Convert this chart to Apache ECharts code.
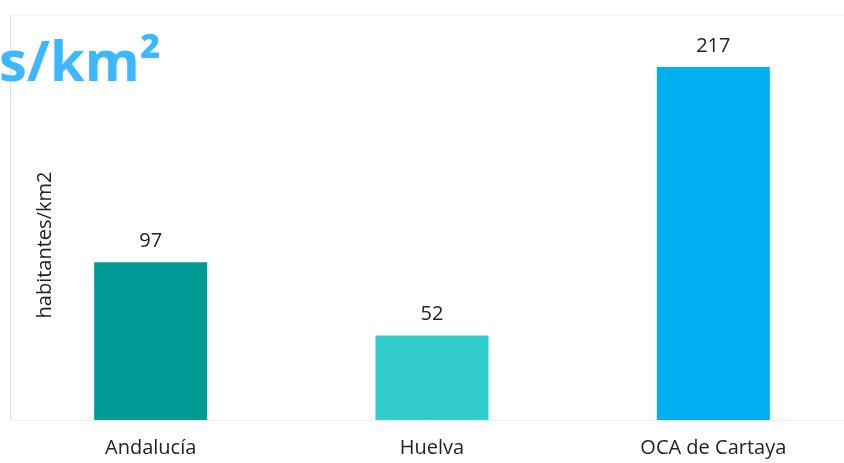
<!DOCTYPE html>
<html>
<head>
<meta charset="utf-8">
<script src="https://cdn.jsdelivr.net/npm/echarts@6/dist/echarts.min.js"></script>
<style>
  html, body { margin: 0; padding: 0; background: #fff; }
  #chart { width: 844px; height: 463px; }
</style>
</head>
<body>
<div id="chart"></div>
<script>
// Chart data
const categories = ['Andalucía', 'Huelva', 'OCA de Cartaya'];
const density = [97, 52, 217];
const barColors = ['#009b95', '#33cccc', '#00b0f0'];

document.addEventListener('DOMContentLoaded', function() {
    const myChart = echarts.init(document.getElementById('chart'));

    const option = {
        animation: false,
        textStyle: { fontFamily: 'Open Sans' },
        grid: { left: 10, width: 844, top: 67, height: 353, outerBoundsMode: 'none' },
        xAxis: {
            type: 'category',
            data: categories,
            axisLine: { lineStyle: { color: '#f0f0f0' } },
            axisTick: { show: false },
            axisLabel: { color: '#222', fontSize: 20, margin: 18 }
        },
        yAxis: {
            type: 'value',
            min: 0,
            max: 217,
            axisLine: { show: false },
            axisTick: { show: false },
            axisLabel: { show: false },
            splitLine: { show: false }
        },
        series: [{
            type: 'bar',
            barWidth: 113,
            data: density.map((v, i) => ({ value: v, itemStyle: { color: barColors[i] } })),
            label: {
                show: true,
                position: 'top',
                distance: 11,
                color: '#222',
                fontSize: 20
            }
        }],
        graphic: [
            // faint frame lines
            { type: 'line', shape: { x1: 10, y1: 15, x2: 844, y2: 15 }, style: { stroke: '#f2f2f2', lineWidth: 1 } },
            { type: 'line', shape: { x1: 10.5, y1: 15, x2: 10.5, y2: 420 }, style: { stroke: '#dddddd', lineWidth: 1 } },
            // cropped title
            {
                type: 'text', left: -1, top: 37,
                style: { text: 's/km²', fill: '#3bb8ff', font: 'bold 56px "Open Sans"' }
            },
            // y axis name
            {
                type: 'text', x: 45, y: 245, rotation: Math.PI / 2,
                style: {
                    text: 'habitantes/km2', fill: '#222', font: '20px "Open Sans"',
                    align: 'center', verticalAlign: 'middle'
                }
            }
        ]
    };

    myChart.setOption(option);
});
</script>
</body>
</html>
